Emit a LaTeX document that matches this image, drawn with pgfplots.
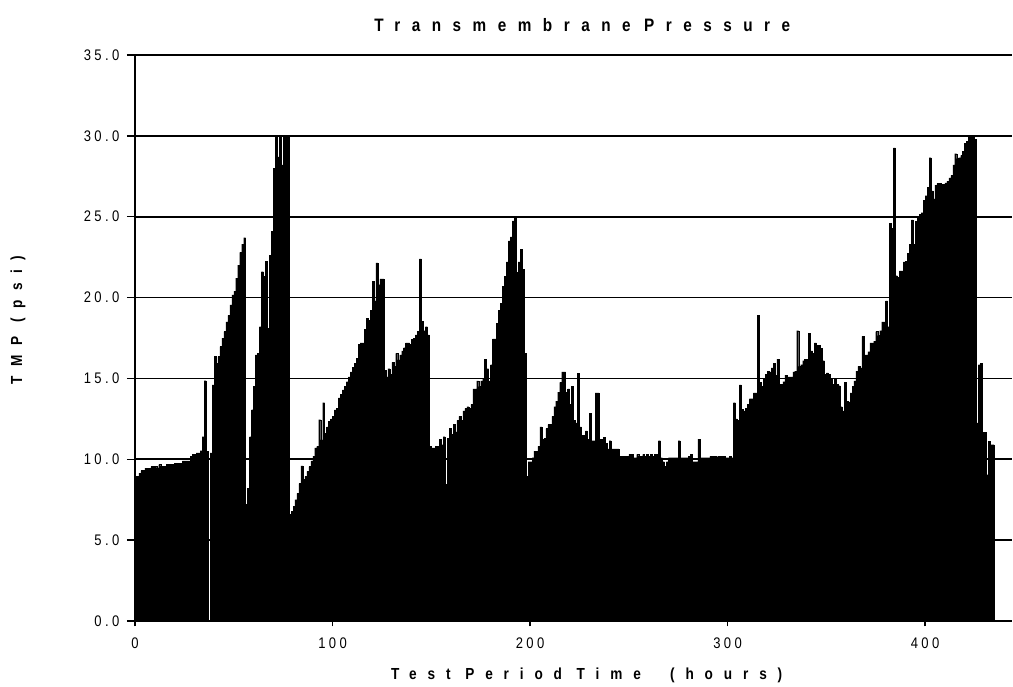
\documentclass[border=0pt]{standalone}
\usepackage{fontspec}
\setmainfont{Liberation Sans}
\newfontfamily\titlefont{Liberation Sans}[FakeStretch=0.85,LetterSpace=64]
\newfontfamily\labfont{Liberation Sans}[FakeStretch=0.85,LetterSpace=60]
\newfontfamily\xlabfont{Liberation Sans}[FakeStretch=0.85,LetterSpace=68]
\newfontfamily\tickfont{Liberation Sans}[FakeStretch=0.85,LetterSpace=22]
\usepackage{pgfplots}
\pgfplotsset{compat=1.18}
\begin{document}
\begin{tikzpicture}
\begin{axis}[
  at={(0,0)}, anchor=south west,
  width=657.75pt, height=424.5pt, scale only axis,
  xmin=0, xmax=444, ymin=0, ymax=35,
  axis x line*=bottom, axis y line*=left,
  axis line style={-, black, line width=1.3pt},
  xtick={0,100,200,300,400}, ytick={0,5,...,35},
  ymajorgrids, grid style={black, line width=1.3pt},
  tick align=outside,
  xtick style={black, line width=1pt, /pgfplots/major tick length=4pt},
  ytick style={black, line width=1pt, /pgfplots/major tick length=6pt},
  /pgf/number format/assume math mode=true,
  yticklabel style={/pgf/number format/fixed, /pgf/number format/fixed zerofill, /pgf/number format/precision=1, xshift=-4pt},
  xticklabel style={yshift=-5pt},
  ticklabel style={font=\tickfont\fontsize{11.5}{13}\selectfont},
  title={Transmembrane\hskip 10pt Pressure},
  title style={at={(axis description cs:0.51,1.053)}, anchor=center, yshift=-6pt, font=\titlefont\bfseries\fontsize{13.5}{15}\selectfont},
  xlabel={Test Period Time\ \ (hours)},
  xlabel style={at={(axis description cs:0.515,-0.0954)}, anchor=center, font=\xlabfont\bfseries\fontsize{12}{14}\selectfont},
  ylabel={TMP (psi)},
  ylabel style={at={(axis description cs:-0.1334,0.532)}, anchor=center, font=\labfont\bfseries\fontsize{12}{14}\selectfont},
]
\addplot[ybar interval, fill=black, draw=black, line width=0.2pt] coordinates {
(0,8.95) (1,8.95) (2,9.15) (3,9.3) (4,9.3) (5,9.45) (6,9.45) (7,9.45) (8,9.55) (9,9.55)
(10,9.55) (11,9.47) (12,9.67) (13,9.57) (14,9.57) (15,9.57) (16,9.67) (17,9.67) (18,9.67) (19,9.67)
(20,9.77) (21,9.77) (22,9.77) (23,9.77) (24,9.9) (25,9.9) (26,9.9) (27,9.9) (28,10.18) (29,10.3)
(30,10.3) (31,10.4) (32,10.4) (33,10.53) (34,11.4) (35,14.86) (36,10.5) (37,0) (38,10.4) (39,14.6)
(40,16.35) (41,15.95) (42,16.35) (43,16.97) (44,17.5) (45,17.9) (46,18.5) (47,18.9) (48,19.55) (49,20.16)
(50,20.4) (51,21.2) (52,22.0) (53,22.8) (54,23.3) (55,23.7) (56,7.2) (57,8.2) (58,11.4) (59,13.07)
(60,14.5) (61,16.46) (62,16.56) (63,18.2) (64,21.6) (65,21.3) (66,22.26) (67,18.1) (68,22.6) (69,24.1)
(70,28.0) (71,30) (72,28.7) (73,30) (74,28.2) (75,30) (76,30) (77,30)
(78,6.6) (79,6.8) (80,7.1) (81,7.5) (82,7.9) (83,8.5) (84,9.6) (85,8.75) (86,8.95) (87,9.25)
(88,9.55) (89,9.9) (90,10.2) (91,10.7) (92,10.8) (93,12.45) (94,11.2) (95,13.5) (96,11.6) (97,12.0)
(98,12.35) (99,12.5) (100,12.65) (101,13.05) (102,13.15) (103,13.8) (104,14.0) (105,14.3) (106,14.5) (107,14.8)
(108,15.1) (109,15.4) (110,15.7) (111,15.95) (112,16.25) (113,17.1) (114,17.2) (115,17.2) (116,18.05) (117,18.7)
(118,18.6) (119,19.2) (120,21.0) (121,19.8) (122,22.15) (123,20.8) (124,21.15) (125,21.15) (126,15.5) (127,15.1)
(128,15.6) (129,15.25) (130,16.0) (131,15.75) (132,16.55) (133,16.15) (134,16.45) (135,16.7) (136,16.9) (137,17.2)
(138,17.2) (139,17.1) (140,17.4) (141,17.5) (142,17.7) (143,17.9)
(144,22.4) (145,18.55) (146,17.95) (147,18.2) (148,17.7) (149,10.8) (150,10.7) (151,10.7) (152,10.8) (153,10.8)
(154,11.25) (155,10.9) (156,11.4) (157,8.45) (158,11.3) (159,11.9) (160,11.55) (161,12.15) (162,11.7) (163,12.4)
(164,12.65) (165,12.4) (166,13.0) (167,13.15) (168,13.25) (169,13.15) (170,13.4) (171,14.35) (172,14.35) (173,14.85)
(174,14.5) (175,14.85) (176,15.0) (177,16.2) (178,15.6) (179,14.85) (180,15.85) (181,17.45) (182,17.45) (183,18.4)
(184,19.2) (185,19.65) (186,20.7) (187,21.3) (188,22.2) (189,23.5) (190,23.75) (191,24.75) (192,25.0) (193,21.55)
(194,22.2) (195,23.0) (196,21.75) (197,16.55) (198,8.95) (199,9.85) (200,9.85) (201,10.1) (202,10.5) (203,10.5)
(204,10.8) (205,12.0) (206,11.25) (207,11.3) (208,11.9) (209,12.15) (210,12.15) (211,12.65) (212,13.25) (213,13.6)
(214,14.15) (215,14.75) (216,15.4) (217,15.4)
(218,14.15) (219,14.35) (220,13.4) (221,14.5) (222,12.4) (223,12.25) (224,15.3) (225,12.0) (226,11.5) (227,11.5)
(228,11.75) (229,11.25) (230,12.85) (231,11.15) (232,11.15) (233,14.1) (234,14.1) (235,11.25) (236,11.25) (237,11.35)
(238,11.0) (239,10.65) (240,11.15) (241,10.65) (242,10.65) (243,10.65) (244,10.65) (245,10.2) (246,10.2) (247,10.2)
(248,10.2) (249,10.2) (250,10.3) (251,10.3) (252,10.1) (253,10.1) (254,10.3) (255,10.2) (256,10.2) (257,10.3)
(258,10.2) (259,10.3) (260,10.2) (261,10.3) (262,10.2) (263,10.3) (264,10.3) (265,11.15) (266,10.1) (267,9.85)
(268,9.55) (269,9.85) (270,10.1) (271,10.1) (272,10.1) (273,10.1) (274,10.1) (275,11.15) (276,10.1) (277,10.1)
(278,10.1) (279,10.1) (280,10.2) (281,10.3) (282,9.85) (283,9.85) (284,9.85) (285,11.25) (286,10.1) (287,10.1)
(288,10.1) (289,10.1) (290,10.1)
(291,10.2) (292,10.2) (293,10.2) (294,10.15) (295,10.2) (296,10.2) (297,10.2) (298,10.2) (299,10.1) (300,10.1)
(301,10.2) (302,10.1) (303,13.5) (304,12.5) (305,12.4) (306,14.6) (307,13.1) (308,13.0) (309,13.15) (310,13.4)
(311,13.75) (312,13.75) (313,14.1) (314,14.1) (315,18.9) (316,14.75) (317,14.5) (318,15.0) (319,15.25) (320,15.45)
(321,15.4) (322,15.65) (323,15.95) (324,15.2) (325,16.2) (326,14.65) (327,14.65) (328,14.8) (329,15.2) (330,15.1)
(331,15.1) (332,15.1) (333,15.4) (334,15.45) (335,17.95) (336,15.75) (337,15.85) (338,16.1) (339,16.2) (340,16.2)
(341,17.8) (342,16.7) (343,16.55) (344,17.2) (345,17.05) (346,17.05) (347,16.85) (348,16.1) (349,15.25) (350,15.35)
(351,15.25) (352,15.0) (353,14.65) (354,15.0) (355,14.65) (356,14.55) (357,13.25) (358,13.0) (359,14.75) (360,13.6)
(361,13.55) (362,14.1) (363,14.5) (364,14.85)
(365,15.45) (366,15.75) (367,15.65) (368,17.6) (369,16.45) (370,16.45) (371,16.65) (372,17.2) (373,17.2) (374,17.3)
(375,17.9) (376,17.65) (377,17.95) (378,18.5) (379,18.5) (380,19.8) (381,18.2) (382,24.6) (383,24.3) (384,29.25)
(385,21.35) (386,21.25) (387,21.65) (388,21.65) (389,22.2) (390,22.25) (391,22.75) (392,23.3) (393,24.8) (394,23.3)
(395,24.7) (396,24.9) (397,25.15) (398,25.25) (399,26.0) (400,26.3) (401,26.8) (402,28.65) (403,26.6) (404,26.1)
(405,26.95) (406,27.05) (407,27.05) (408,27.0) (409,27.0) (410,27.1) (411,27.2) (412,27.4) (413,27.55) (414,28.2)
(415,28.9) (416,28.6) (417,28.65) (418,28.8) (419,29.05) (420,29.55) (421,29.65) (422,29.9) (423,29.95) (424,29.9)
(425,29.8) (426,12.25) (427,15.85) (428,15.95) (429,11.65) (430,11.65) (431,9.05) (432,11.1) (433,10.9) (434,10.9)
(435,10.9)
};
\end{axis}
\pgfresetboundingbox
\path[use as bounding box] (-101.25pt,-48.75pt) rectangle (658.5pt,465.75pt);
\end{tikzpicture}
\end{document}
